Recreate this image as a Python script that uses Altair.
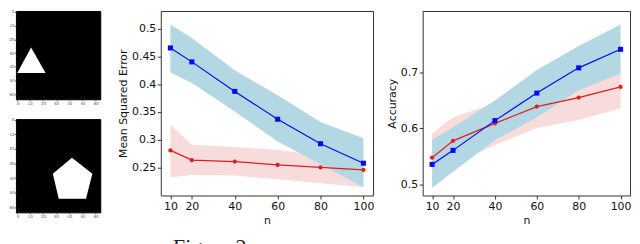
import altair as alt
import pandas as pd

# ---- data ----
n_vals = [10, 20, 40, 60, 80, 100]

mse_blue = [0.465, 0.440, 0.387, 0.337, 0.293, 0.258]
mse_blue_lo = [0.421, 0.402, 0.351, 0.297, 0.256, 0.215]
mse_blue_hi = [0.507, 0.483, 0.425, 0.380, 0.332, 0.303]
mse_red = [0.281, 0.2635, 0.261, 0.255, 0.2505, 0.246]
mse_red_lo = [0.233, 0.237, 0.236, 0.229, 0.222, 0.215]
mse_red_hi = [0.327, 0.291, 0.287, 0.282, 0.272, 0.266]

acc_blue = [0.536, 0.561, 0.614, 0.663, 0.708, 0.741]
acc_blue_lo = [0.494, 0.523, 0.579, 0.620, 0.668, 0.698]
acc_blue_hi = [0.580, 0.602, 0.650, 0.704, 0.747, 0.785]
acc_red = [0.548, 0.578, 0.609, 0.639, 0.655, 0.674]
acc_red_lo = [0.505, 0.535, 0.5705, 0.601, 0.615, 0.636]
acc_red_hi = [0.591, 0.620, 0.645, 0.680, 0.690, 0.705]

mse_ticks = [0.25, 0.3, 0.35, 0.4, 0.45, 0.5]
acc_ticks = [0.5, 0.6, 0.7]

# shape vertices (image pixel coordinates, 64x64 image)
tri_x = [0.5, 11, 22]
tri_top = [44.5, 26, 44.5]
tri_bot = [44.5, 44.5, 44.5]
pent_x = [27.5, 32, 42, 52.7, 57.5]
pent_top = [37, 33.6, 26, 33.6, 37]
pent_bot = [37, 54.2, 54.2, 54.2, 37]
img_ticks = [0, 10, 20, 30, 40, 50, 60]

FONT = "DejaVu Sans"
BLUE = "#0a0af0"
RED = "#dd1f1f"
BLUE_BAND = "#b3d7e3"
RED_BAND = "#f8dcdb"


def image_panel(xs, tops, bots, h):
    d = pd.DataFrame({"x": xs, "top": tops, "bot": bots})
    sx = alt.Scale(domain=[-0.5, 63.5], nice=False, zero=False)
    sy = alt.Scale(domain=[-0.5, 63.5], nice=False, zero=False, reverse=True)
    ax = dict(values=img_ticks, labelFontSize=4, tickSize=1.5, labelPadding=0.5,
              labelColor="#555", tickColor="#555", domain=False, grid=False,
              labelFont=FONT, title=None)
    return alt.Chart(d).mark_area(color="white", opacity=1, interpolate="linear").encode(
        x=alt.X("x:Q", scale=sx, axis=alt.Axis(**ax)),
        y=alt.Y("top:Q", scale=sy, axis=alt.Axis(**ax)),
        y2="bot:Q",
    ).properties(width=85, height=h, view=alt.ViewBackground(fill="black", stroke="black"))


def line_panel(blue, blo, bhi, red, rlo, rhi, ydom, yticks, ytitle, fmt, w):
    d_b = pd.DataFrame({"n": n_vals, "m": blue, "lo": blo, "hi": bhi})
    d_r = pd.DataFrame({"n": n_vals, "m": red, "lo": rlo, "hi": rhi})
    xs = alt.Scale(domain=[5.5, 104.5], nice=False, zero=False)
    ys = alt.Scale(domain=ydom, nice=False, zero=False)
    xax = alt.Axis(values=n_vals, title="n", grid=False, domain=False)
    yax = alt.Axis(values=yticks, title=ytitle, grid=False, domain=False, format=fmt)
    X = alt.X("n:Q", scale=xs, axis=xax)

    def band(d, c):
        return alt.Chart(d).mark_area(color=c, opacity=1).encode(
            x=X, y=alt.Y("lo:Q", scale=ys, axis=yax), y2="hi:Q")

    def line(d, c, shape, size):
        base = alt.Chart(d).encode(x=X, y=alt.Y("m:Q", scale=ys, axis=yax))
        return base.mark_line(color=c, strokeWidth=1.2) + base.mark_point(
            shape=shape, filled=True, color=c, size=size, opacity=1)

    return alt.layer(
        band(d_r, RED_BAND), band(d_b, BLUE_BAND),
        line(d_r, RED, "circle", 18), line(d_b, BLUE, "square", 26),
    ).properties(width=w, height=186)


left = alt.vconcat(
    image_panel(tri_x, tri_top, tri_bot, 89),
    image_panel(pent_x, pent_top, pent_bot, 94),
    spacing=11,
)
mse = line_panel(mse_blue, mse_blue_lo, mse_blue_hi, mse_red, mse_red_lo, mse_red_hi,
                 [0.2, 0.5314], mse_ticks, "Mean Squared Error", ".2~f", 214)
acc = line_panel(acc_blue, acc_blue_lo, acc_blue_hi, acc_red, acc_red_lo, acc_red_hi,
                 [0.4806, 0.8093], acc_ticks, "Accuracy", ".1f", 209)

chart = alt.hconcat(
    left, alt.hconcat(mse, acc, spacing=11), spacing=16
).properties(
    padding=0,
    title=alt.TitleParams("Figure 2", orient="bottom", anchor="start", dx=166, offset=11,
                          fontSize=22, font="Liberation Serif", fontWeight="normal",
                          color="#222", baseline="top"),
).configure_view(stroke="#333", strokeWidth=1).configure_axis(
    labelFont=FONT, labelFontSize=11, labelColor="#111", tickColor="#333",
    tickSize=3.5, labelPadding=1.5, titleFont=FONT, titleFontSize=11,
    titleFontWeight="normal", titleColor="#111", titlePadding=3,
).configure_title(font=FONT)

chart.save("out.html", embed_options={"renderer": "svg", "actions": False})
